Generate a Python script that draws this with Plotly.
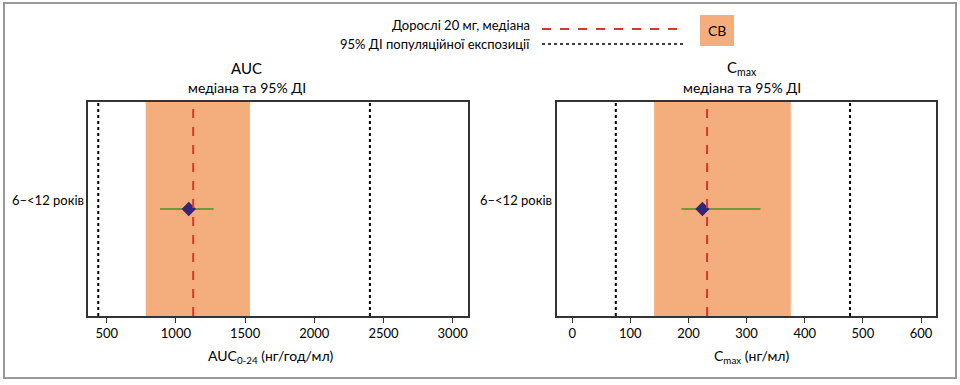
import plotly.graph_objects as go

# ---- data ----
group_labels = ["6–<12 років"]
auc_median = [1093]
auc_ci_low = [885]
auc_ci_high = [1273]
auc_adult_median = 1125
auc_pop_ci = [439, 2402]
auc_band = [782, 1535]
auc_ticks = [500, 1000, 1500, 2000, 2500, 3000]

cmax_median = [224]
cmax_ci_low = [188]
cmax_ci_high = [324]
cmax_adult_median = 232
cmax_pop_ci = [75, 478]
cmax_band = [141, 376]
cmax_ticks = [0, 100, 200, 300, 400, 500, 600]

FONT = "Lato"
ORANGE = "#F4AD7C"
RED = "#D9362C"
GREEN = "#6E9A3C"
NAVY = "#2E2878"

W, H = 960, 385
def px(x):
    return x / W
def py(y):
    return 1 - y / H

fig = go.Figure()

panels = [
    dict(xa="x", ya="y", med=auc_median, lo=auc_ci_low, hi=auc_ci_high,
         adult=auc_adult_median, pop=auc_pop_ci, band=auc_band),
    dict(xa="x2", ya="y2", med=cmax_median, lo=cmax_ci_low, hi=cmax_ci_high,
         adult=cmax_adult_median, pop=cmax_pop_ci, band=cmax_band),
]

for p in panels:
    xr = p["xa"]
    yr = p["ya"]
    fig.add_shape(type="rect", xref=xr, yref=yr + " domain",
                  x0=p["band"][0], x1=p["band"][1], y0=0, y1=1,
                  fillcolor=ORANGE, line=dict(width=0), layer="below")
    for v in p["pop"]:
        fig.add_shape(type="line", xref=xr, yref=yr + " domain",
                      x0=v, x1=v, y0=0, y1=1,
                      line=dict(color="black", width=2, dash="dot"))
    fig.add_shape(type="line", xref=xr, yref=yr + " domain",
                  x0=p["adult"], x1=p["adult"], y0=0, y1=1,
                  line=dict(color=RED, width=2, dash="dash"))
    for m, lo, hi in zip(p["med"], p["lo"], p["hi"]):
        fig.add_trace(go.Scatter(x=[lo, hi], y=[1, 1], mode="lines",
                                 line=dict(color=GREEN, width=2),
                                 xaxis=xr, yaxis=yr, showlegend=False,
                                 hoverinfo="skip"))
    fig.add_trace(go.Scatter(x=p["med"], y=[1] * len(p["med"]), mode="markers",
                             marker=dict(symbol="diamond", size=11, color=NAVY),
                             xaxis=xr, yaxis=yr, showlegend=False))

axis_common = dict(showline=True, linecolor="#333", linewidth=1.5, mirror=True,
                   showgrid=False, zeroline=False, ticks="outside", ticklen=5,
                   tickcolor="#333", tickfont=dict(family=FONT, size=13, color="black"))
yaxis_common = dict(showline=True, linecolor="#333", linewidth=1.5, mirror=True,
                    showgrid=False, zeroline=False, showticklabels=False, ticks="",
                    range=[0, 2])

fig.update_layout(
    width=W, height=H,
    margin=dict(l=0, r=0, t=0, b=0),
    paper_bgcolor="white", plot_bgcolor="white",
    font=dict(family=FONT, color="black"),
    xaxis=dict(domain=[px(88.3), px(468.3)], range=[367, 3113], tickvals=auc_ticks,
               anchor="y", **axis_common),
    yaxis=dict(domain=[py(316), py(102)], anchor="x", **yaxis_common),
    xaxis2=dict(domain=[px(557.3), px(936)], range=[-25.6, 625.8], tickvals=cmax_ticks,
                anchor="y2", **axis_common),
    yaxis2=dict(domain=[py(316), py(102)], anchor="x2", **yaxis_common),
    showlegend=False,
)

fig.add_shape(type="rect", xref="paper", yref="paper",
              x0=px(4), x1=px(956), y0=py(378), y1=py(3),
              line=dict(color="#999", width=2), fillcolor="rgba(0,0,0,0)")

ann = []
def text(x, y, s, size=13, xanchor="center"):
    ann.append(dict(x=px(x), y=py(y), xref="paper", yref="paper", text=s,
                    showarrow=False, xanchor=xanchor, yanchor="middle",
                    font=dict(family=FONT, size=size, color="black")))

text(247, 68, "AUC", 15)
text(247, 88, "медіана та 95% ДІ", 14)
text(742, 68, "C<sub>max</sub>", 15)
text(742, 88, "медіана та 95% ДІ", 14)
text(271, 356, "AUC<sub>0-24</sub> (нг/год/мл)", 14)
text(751, 356, "C<sub>max</sub> (нг/мл)", 14)
text(86, 200, group_labels[0], 13, "right")
text(554, 200, group_labels[0], 13, "right")
text(532, 25, "Дорослі 20 мг, медіана", 13, "right")
text(532, 44, "95% ДІ популяційної експозиції", 13, "right")
fig.add_shape(type="line", xref="paper", yref="paper", x0=px(542), x1=px(683),
              y0=py(29), y1=py(29), line=dict(color=RED, width=2, dash="dash"))
fig.add_shape(type="line", xref="paper", yref="paper", x0=px(542), x1=px(683),
              y0=py(44), y1=py(44), line=dict(color="black", width=1.5, dash="dot"))
fig.add_shape(type="rect", xref="paper", yref="paper", x0=px(700), x1=px(734),
              y0=py(46), y1=py(15), fillcolor=ORANGE, line=dict(width=0))
text(717, 30, "СВ", 14)

fig.update_layout(annotations=ann)
fig.write_html("out.html", config={"displayModeBar": False},
               post_script="document.body.style.margin='0';document.body.style.overflow='hidden';")
